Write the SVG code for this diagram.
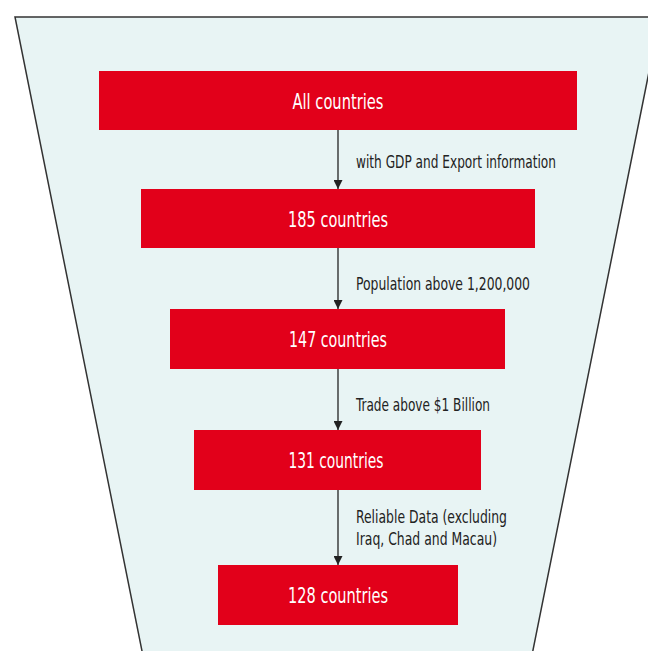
<svg xmlns="http://www.w3.org/2000/svg" width="648" height="651" viewBox="0 0 648 651">
<style>
.box{fill:#e2001a}
.bt{font-family:"DejaVu Sans Condensed","Liberation Sans Narrow","Liberation Sans",sans-serif;font-size:22px;fill:#fff;text-anchor:middle}
.lt{font-family:"DejaVu Sans Condensed","Liberation Sans Narrow","Liberation Sans",sans-serif;font-size:17.5px;fill:#222}
.con{stroke:#222;stroke-width:1.3;fill:none}
</style>
<defs>
<marker id="ah" viewBox="0 0 10 10" refX="10" refY="5" markerWidth="9" markerHeight="9" markerUnits="userSpaceOnUse" orient="auto">
<path d="M0,0 L10,5 L0,10 z" fill="#222"/>
</marker>
</defs>
<polygon points="15,17 660,17 531,660 143.8,660" fill="#e8f4f4" stroke="#333" stroke-width="1.5"/>
<g id="connectors">
<line class="con" x1="338" y1="130" x2="338" y2="189" marker-end="url(#ah)"/>
<line class="con" x1="338" y1="248" x2="338" y2="309" marker-end="url(#ah)"/>
<line class="con" x1="338" y1="369" x2="338" y2="430" marker-end="url(#ah)"/>
<line class="con" x1="338" y1="490" x2="338" y2="565" marker-end="url(#ah)"/>
<text class="lt" x="356" y="168" textLength="200" lengthAdjust="spacingAndGlyphs">with GDP and Export information</text>
<text class="lt" x="356" y="290" textLength="174" lengthAdjust="spacingAndGlyphs">Population above 1,200,000</text>
<text class="lt" x="356" y="411" textLength="134" lengthAdjust="spacingAndGlyphs">Trade above $1 Billion</text>
<text class="lt" x="356" y="523" textLength="151" lengthAdjust="spacingAndGlyphs">Reliable Data (excluding</text>
<text class="lt" x="356" y="545" textLength="141" lengthAdjust="spacingAndGlyphs">Iraq, Chad and Macau)</text>
</g>
<g id="n1"><rect class="box" x="99" y="71" width="478" height="59"/><text class="bt" x="338" y="109" textLength="91" lengthAdjust="spacingAndGlyphs">All countries</text></g>
<g id="n2"><rect class="box" x="141" y="189" width="394" height="59"/><text class="bt" x="338" y="227" textLength="100" lengthAdjust="spacingAndGlyphs">185 countries</text></g>
<g id="n3"><rect class="box" x="170" y="309" width="335" height="60"/><text class="bt" x="338" y="347" textLength="98" lengthAdjust="spacingAndGlyphs">147 countries</text></g>
<g id="n4"><rect class="box" x="194" y="430" width="287" height="60"/><text class="bt" x="336" y="468" textLength="95" lengthAdjust="spacingAndGlyphs">131 countries</text></g>
<g id="n5"><rect class="box" x="218" y="565" width="240" height="60"/><text class="bt" x="338" y="603" textLength="100" lengthAdjust="spacingAndGlyphs">128 countries</text></g>
</svg>
